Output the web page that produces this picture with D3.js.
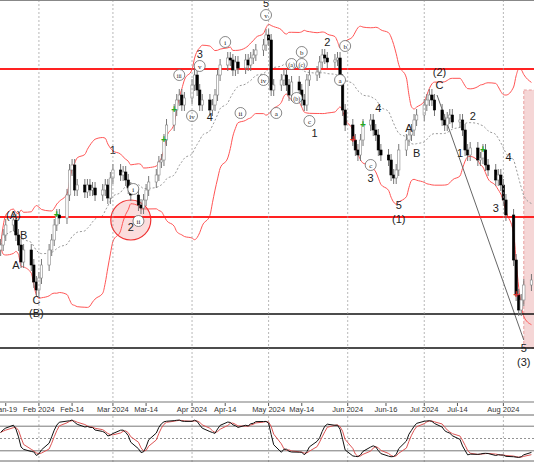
<!DOCTYPE html>
<html><head><meta charset="utf-8">
<script src="https://cdn.jsdelivr.net/npm/d3@7"></script>
<style>body{margin:0;background:#fff}svg{font-family:"Liberation Sans",Arial,sans-serif}</style>
</head><body><div id="chart"></div>
<script>
const W = 534, H = 462;

// closes, one per trading day from 2024-01-17
const closes = [155,165,175,
 180,165,155,138,150, 135,118,110,122,135, 150,160,175,185,182, 205,230,235,210,215,
 208,215,210,212,205, 210,215,202,222,230, 225,228,220,212,205, 195,192,200,210,218,
 225,238,240,260,275, 290,300,305,295,302, 315,325,310,295,300, 290,295,305,325,335,
 342,340,330,338,332, 340,335,342,345,350, 355,365,360,310,315, 320,325,315,305,318,
 310,300,295,320,325, 328,338,345,342,338, 340,342,320,290,275, 260,250,245,260,275,
 280,270,265,250,245, 240,225,222,230,250, 260,265,270,280,285, 295,300,305,300,290,
 280,275,282,285,278, 280,270,250,245,252, 240,242,250,235,230, 220,225,215,200,185,
 140,105,90,100,115, 120];
const wick = 6;

const hLinesRed = [331, 183];
const hLinesBlack = [86, 52];
const monthTicks = ["2024-02-01","2024-03-01","2024-04-01","2024-05-01","2024-06-01","2024-07-01","2024-08-01"];
const axisLabels = [["2024-01-19","Jan-19"],["2024-02-01","Feb 2024"],["2024-02-14","Feb-14"],["2024-03-01","Mar 2024"],["2024-03-14","Mar-14"],
 ["2024-04-01","Apr 2024"],["2024-04-14","Apr-14"],["2024-05-01","May 2024"],["2024-05-14","May-14"],["2024-06-01","Jun 2024"],
 ["2024-06-16","Jun-16"],["2024-07-01","Jul 2024"],["2024-07-14","Jul-14"],["2024-08-01","Aug 2024"]];
const waveLabels = [["2024-01-22",185,"(A)"],["2024-01-26",165,"B"],["2024-01-23",135,"A"],["2024-01-31",100,"C"],["2024-01-31",87,"(B)"],
 ["2024-03-01",250,"1"],["2024-03-08",173,"2"],["2024-04-04",346,"3"],["2024-04-08",283,"4"],["2024-04-30",397,"5"],
 ["2024-05-24",358,"2"],["2024-05-19",267,"1"],["2024-06-13",292,"4"],["2024-06-10",222,"3"],["2024-06-21",195,"5"],
 ["2024-06-21",181,"(1)"],["2024-06-25",272,"A"],["2024-06-28",247,"B"],["2024-07-07",315,"C"],["2024-07-07",328,"(2)"],
 ["2024-07-15",247,"1"],["2024-07-20",284,"2"],["2024-07-29",192,"3"],["2024-08-03",243,"4"],["2024-08-09",52,"5"],["2024-08-09",38,"(3)"]];
const circleLabels = [["2024-04-14",358,"i"],["2024-03-27",325,"iii"],["2024-04-04",334,"v"],["2024-04-01",284,"iv"],["2024-04-20",287,"ii"],
 ["2024-04-29",320,"iv"],["2024-04-30",385,"v"],["2024-05-04",287,"a"],["2024-05-10",336,"(a)"],["2024-05-12",302,"(b)"],["2024-05-14",336,"(c)"],
 ["2024-05-14",348,"b"],["2024-05-17",279,"c"],["2024-05-29",320,"a"],["2024-05-31",354,"b"],["2024-06-10",235,"c"],
 ["2024-03-09",211,"i"],["2024-03-11",179,"ii"]];
const crossDates = ["2024-02-08","2024-03-21","2024-03-25","2024-06-03","2024-06-07","2024-07-24","2024-08-06"];

// trading days
const days = [];
for (let d = new Date(2024,0,17); days.length < closes.length; d.setDate(d.getDate()+1)) {
  if (d.getDay() != 0 && d.getDay() != 6) days.push(new Date(d));
}
const data = closes.map((c,i) => {
  const o = i ? closes[i-1] : c - 5;
  return {date: days[i], o: o, c: c, h: Math.max(o,c)+wick, l: Math.min(o,c)-wick};
});
const parse = d3.timeParse("%Y-%m-%d");

const x = d3.scaleTime().domain([new Date(2024,0,16,18), new Date(2024,7,13)]).range([0, W]);
const y = d3.scaleLinear().domain([0, 400]).range([400, 0]);
const yo = d3.scaleLinear().domain([0, 100]).range([459, 418]);

const svg = d3.select("#chart").append("svg").attr("width", W).attr("height", H);
const main = svg.append("g");
main.append("clipPath").attr("id","cp").append("rect").attr("width",W).attr("height",401);

// grid
svg.selectAll(".vg").data(monthTicks).enter().append("line")
  .attr("x1", d=>x(parse(d))).attr("x2", d=>x(parse(d))).attr("y1",0).attr("y2",H)
  .attr("stroke","#999").attr("stroke-dasharray","2,2").attr("stroke-width",0.7);
svg.append("line").attr("x1",0).attr("x2",W).attr("y1",0.5).attr("y2",0.5).attr("stroke","#888");

// bollinger
const n = 20;
const bb = data.map((d,i) => {
  const s = data.slice(Math.max(0,i-n+1), i+1).map(e=>e.c);
  const m = d3.mean(s), sd = d3.deviation(s) || 0;
  return {date: d.date, m: m, u: m+2*sd, lo: m-2*sd};
});
const g = main.append("g").attr("clip-path","url(#cp)");
g.append("rect").attr("x", x(parse("2024-08-09"))).attr("width", W).attr("y", y(310)).attr("height", y(52)-y(310))
  .attr("fill","#f5d6d6").attr("stroke","#e8a0a0").attr("stroke-dasharray","3,2");
g.append("circle").attr("cx", x(parse("2024-03-08"))).attr("cy", y(180)).attr("r",20)
  .attr("fill","#f9c7c7").attr("fill-opacity",0.6).attr("stroke","#e33").attr("stroke-width",1.2);
const line = k => d3.line().x(d=>x(d.date)).y(d=>y(d[k])).curve(d3.curveMonotoneX);
g.append("path").datum(bb).attr("d", line("m")).attr("fill","none").attr("stroke","#999").attr("stroke-dasharray","2,2");
["u","lo"].forEach(k => g.append("path").datum(bb).attr("d", line(k)).attr("fill","none").attr("stroke","#f55").attr("stroke-width",1));
g.append("line").attr("x1", x(parse("2024-07-06"))).attr("y1", y(305)).attr("x2", x(parse("2024-08-09"))).attr("y2", y(60))
  .attr("stroke","#666").attr("stroke-width",1);

hLinesRed.forEach(p => g.append("line").attr("x1",0).attr("x2",W).attr("y1",y(p)).attr("y2",y(p)).attr("stroke","#f22").attr("stroke-width",2));
hLinesBlack.forEach(p => g.append("line").attr("x1",0).attr("x2",W).attr("y1",y(p)).attr("y2",y(p)).attr("stroke","#111").attr("stroke-width",1.6));

// candles
const cw = 2.4;
const cg = g.selectAll(".cd").data(data).enter().append("g");
cg.append("line").attr("x1",d=>x(d.date)).attr("x2",d=>x(d.date)).attr("y1",d=>y(d.h)).attr("y2",d=>y(d.l)).attr("stroke","#777");
cg.append("rect").attr("x",d=>x(d.date)-cw/2).attr("width",cw)
  .attr("y",d=>y(Math.max(d.o,d.c))).attr("height",d=>Math.max(1,Math.abs(y(d.o)-y(d.c))))
  .attr("fill",d=>d.c>=d.o?"#fff":"#000").attr("stroke",d=>d.c>=d.o?"#888":"#000").attr("stroke-width",0.6);

crossDates.forEach(ds => {
  const d = data.find(e => +e.date == +parse(ds)); if (!d) return;
  g.append("text").attr("x",x(d.date)).attr("y",y(d.c)+3).attr("text-anchor","middle").attr("font-size",10)
    .attr("font-weight","bold").attr("fill", d.c>d.o?"#2a2":"#d33").text("+");
});

// wave labels
g.selectAll(".wl").data(waveLabels).enter().append("text")
  .attr("x",d=>x(parse(d[0]))).attr("y",d=>y(d[1])+4).attr("text-anchor","middle").attr("font-size",11).attr("fill","#222").text(d=>d[2]);
const cl = g.selectAll(".cl").data(circleLabels).enter().append("g")
  .attr("transform", d=>`translate(${x(parse(d[0]))},${y(d[1])})`);
cl.append("circle").attr("r",5.5).attr("fill","#fff").attr("stroke","#555").attr("stroke-width",0.7);
cl.append("text").attr("y",2.5).attr("text-anchor","middle").attr("font-size",d=>d[2].length>2?6:7)
  .attr("font-family","Liberation Serif,serif").attr("fill","#222").text(d=>d[2]);

// x axis strip
svg.append("rect").attr("x",0).attr("y",401).attr("width",W).attr("height",13).attr("fill","#fff");
svg.append("line").attr("x1",0).attr("x2",W).attr("y1",402).attr("y2",402).attr("stroke","#bbb").attr("stroke-width",2);
svg.selectAll(".tk").data(axisLabels).enter().append("line")
  .attr("x1",d=>x(parse(d[0]))).attr("x2",d=>x(parse(d[0]))).attr("y1",403).attr("y2",406).attr("stroke","#555");
svg.selectAll(".al").data(axisLabels).enter().append("text")
  .attr("x",d=>x(parse(d[0]))).attr("y",412).attr("text-anchor","middle").attr("font-size",7.5).attr("fill","#333").text(d=>d[1]);
svg.append("line").attr("x1",0).attr("x2",W).attr("y1",415).attr("y2",415).attr("stroke","#666");

// stochastic
const kRaw = data.map((d,i) => {
  const s = data.slice(Math.max(0,i-13), i+1);
  const hh = d3.max(s,e=>e.h), ll = d3.min(s,e=>e.l);
  return 100*(d.c-ll)/(hh-ll);
});
const sma = (a,p) => a.map((v,i)=>d3.mean(a.slice(Math.max(0,i-p+1),i+1)));
const k = sma(kRaw,3), dl = sma(k,3);
[[80,"#555",null],[20,"#555",null],[50,"#777","2,2"]].forEach(([v,c,da]) =>
  svg.append("line").attr("x1",0).attr("x2",W).attr("y1",yo(v)).attr("y2",yo(v)).attr("stroke",c).attr("stroke-width",0.8).attr("stroke-dasharray",da));
const ol = arr => d3.line().x((v,i)=>x(data[i].date)).y(v=>yo(v))(arr);
svg.append("path").attr("d", ol(dl)).attr("fill","none").attr("stroke","#d55").attr("stroke-width",1);
svg.append("path").attr("d", ol(k)).attr("fill","none").attr("stroke","#111").attr("stroke-width",1);
svg.append("line").attr("x1",0).attr("x2",W).attr("y1",461).attr("y2",461).attr("stroke","#666");
</script></body></html>
